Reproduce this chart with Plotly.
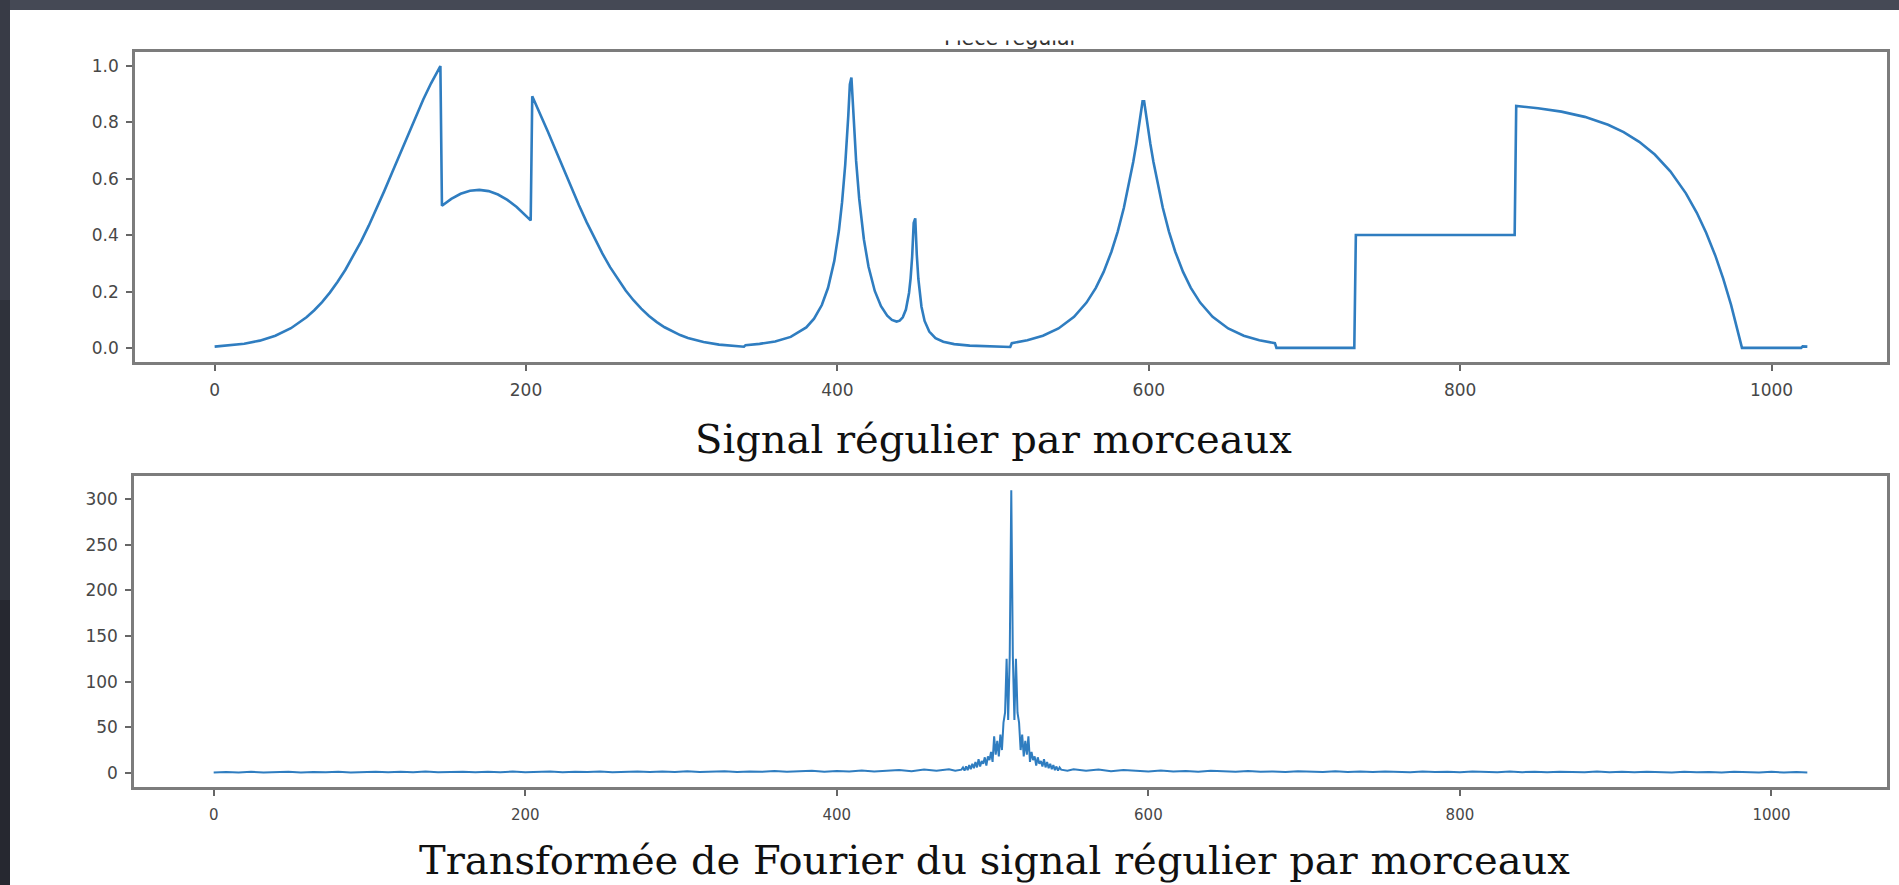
import plotly.graph_objects as go

# ---------------------------------------------------------------
# Piece-regular test signal (1024 samples, normalised to [0, 1])
# ---------------------------------------------------------------
signal_x = [
    0, 9, 19, 29, 39, 49, 59, 64, 69, 74, 79, 84, 89, 94, 99, 104, 109, 114,
    119, 124, 129, 134, 139, 142, 145,
    146, 152, 158, 164, 170, 176, 182, 188, 194, 199, 203,
    204, 209, 214, 219, 224, 229, 234, 239, 244, 249, 254, 259, 264, 269, 274,
    279, 284, 289, 294, 299, 304, 314, 324, 334, 340,
    341, 350, 360, 370, 380, 385, 390, 394, 398, 401, 403, 405, 407, 408, 409,
    410, 412, 414, 417, 420, 424, 428, 432, 435, 438, 440, 442, 444, 446, 447,
    448, 449, 450, 451, 452, 454, 456, 459, 463, 468, 475, 485, 495, 505, 511,
    512, 522, 532, 542, 552, 560, 566, 571, 576, 580, 584, 587, 590, 592, 594, 596,
    597, 599, 601, 603, 606, 609, 613, 617, 622, 627, 633, 641, 651, 661, 671, 681,
    682, 732, 733, 835,
    836, 850, 865, 880, 895, 905, 915, 925, 935, 945, 952, 958, 964, 969, 974, 978, 981,
    982, 1019, 1020, 1021, 1022, 1023,
]
signal_y = [
    0.0046, 0.0082, 0.0148, 0.0258, 0.0433, 0.0699, 0.1087, 0.1337, 0.1628, 0.1963,
    0.2345, 0.2774, 0.3251, 0.3774, 0.4338, 0.4940, 0.5572, 0.6226,
    0.6890, 0.7551, 0.8198, 0.8815, 0.9389, 0.9707, 1.0000,
    0.5046, 0.5289, 0.5468, 0.5576, 0.5608, 0.5563, 0.5443, 0.5253, 0.5000, 0.4749, 0.4526,
    0.8933, 0.8324, 0.7682, 0.7022, 0.6358, 0.5702, 0.5065, 0.4456, 0.3883, 0.3352,
    0.2866, 0.2427, 0.2036, 0.1691, 0.1392,
    0.1134, 0.0916, 0.0732, 0.0580, 0.0455, 0.0354, 0.0207, 0.0117, 0.0064, 0.0043,
    0.0098, 0.0143, 0.0229, 0.0390, 0.0727, 0.1035, 0.1522, 0.2134, 0.3087, 0.4173,
    0.5171, 0.6485, 0.8245, 0.9350, 0.9595,
    0.8456, 0.6645, 0.5295, 0.3855, 0.2879, 0.2021, 0.1479, 0.1141, 0.0991, 0.0934,
    0.0965, 0.1085, 0.1361, 0.1948, 0.2461,
    0.3234, 0.4430, 0.4598, 0.3296, 0.2445, 0.1463, 0.0958, 0.0578, 0.0348, 0.0218,
    0.0135, 0.0081, 0.0054, 0.0037, 0.0031,
    0.0168, 0.0269, 0.0430, 0.0689, 0.1103, 0.1608, 0.2132, 0.2697, 0.3413, 0.4121,
    0.4974, 0.5728, 0.6596, 0.7247, 0.7963, 0.8748,
    0.8748, 0.7963, 0.7247, 0.6596, 0.5728, 0.4974, 0.4121, 0.3413, 0.2697, 0.2132,
    0.1608, 0.1103, 0.0689, 0.0430, 0.0269, 0.0168,
    0.0, 0.0, 0.4006, 0.4006,
    0.8584, 0.8507, 0.8384, 0.8198, 0.7919, 0.7658, 0.7314, 0.6862, 0.6268, 0.5485,
    0.4796, 0.4089, 0.3257, 0.2452, 0.1527, 0.0690, 0.0,
    0.0, 0.0, 0.0056, 0.0053, 0.0049, 0.0046,
]

# ---------------------------------------------------------------
# Magnitude of the centred Fourier transform of the signal
# ---------------------------------------------------------------
fft_left_x = list(range(0, 473, 8)) + [476]
fft_left_y = [
    0.3, 0.9, 0.4, 1.1, 0.5, 0.8, 1.2, 0.4, 1.0, 0.6,
    1.3, 0.5, 0.9, 1.2, 0.6, 1.1, 0.7, 1.4, 0.6, 1.0,
    1.3, 0.7, 1.2, 0.8, 1.5, 0.7, 1.1, 1.4, 0.8, 1.3,
    0.9, 1.6, 0.8, 1.2, 1.5, 0.9, 1.4, 1.0, 1.7, 0.9,
    1.4, 1.8, 1.0, 1.6, 1.1, 2.0, 1.2, 1.8, 2.3, 1.3,
    2.1, 1.5, 2.6, 1.6, 2.4, 3.2, 1.9, 3.6, 2.2, 4.0,
    2.4,
]
fft_center_x = list(range(480, 545))
fft_center_y = [
    3.5, 6, 2.5, 7, 3, 8.5, 4, 10, 5, 12, 6, 15, 7, 13, 10, 17,
    8, 18, 14, 23, 12, 40, 20, 35, 18, 42, 25, 55, 66, 125, 58, 128,
    310,
    128, 58, 125, 66, 55, 25, 42, 18, 35, 20, 40, 12, 23, 14, 18, 8,
    17, 10, 13, 7, 15, 6, 12, 5, 10, 4, 8.5, 3, 7, 2.5, 6, 3.5,
]
fft_right_x = [548] + list(range(552, 1017, 8)) + [1023]
fft_right_y = [
    2.4,
    4.0, 2.2, 3.6, 1.9, 3.2, 2.4, 1.6, 2.6, 1.5, 2.1,
    1.3, 2.3, 1.8, 1.2, 2.0, 1.1, 1.6, 1.0, 1.8, 1.4,
    0.9, 1.7, 1.0, 1.4, 0.9, 1.5, 1.2, 0.8, 1.6, 0.9,
    1.3, 0.8, 1.4, 1.1, 0.7, 1.5, 0.8, 1.2, 0.7, 1.3,
    1.0, 0.6, 1.4, 0.7, 1.1, 0.6, 1.2, 0.9, 0.5, 1.3,
    0.6, 1.0, 0.4, 1.2, 0.8, 0.5, 1.1, 0.4, 0.9,
    0.5,
]
fft_x = fft_left_x + fft_center_x + fft_right_x
fft_y = fft_left_y + fft_center_y + fft_right_y

top_yticks = [0.0, 0.2, 0.4, 0.6, 0.8, 1.0]
bottom_yticks = [0, 50, 100, 150, 200, 250, 300]
x_ticks = [0, 200, 400, 600, 800, 1000]

TITLE = "Piece regular"
CAPTION_TOP = "Signal régulier par morceaux"
CAPTION_BOTTOM = "Transformée de Fourier du signal régulier par morceaux"

# ---------------------------------------------------------------
W, H = 1899, 885
LINE = "#2f7dc0"
SPINE = "#7c7c7c"
TICKTXT = "#474747"


def px_x(p):
    return p / W


def px_y(p):
    return 1 - p / H


fig = go.Figure()
fig.add_trace(go.Scatter(x=signal_x, y=signal_y, mode="lines",
                         line=dict(color=LINE, width=2.6),
                         xaxis="x", yaxis="y", showlegend=False))
fig.add_trace(go.Scatter(x=fft_x, y=fft_y, mode="lines",
                         line=dict(color=LINE, width=2.0),
                         xaxis="x2", yaxis="y2", showlegend=False))

common_axis = dict(showline=True, mirror=True, linecolor=SPINE, linewidth=2.5,
                   showgrid=False, zeroline=False, ticks="outside",
                   ticklen=6, tickwidth=1.5, tickcolor="#666666")

fig.update_layout(
    width=W, height=H,
    margin=dict(l=0, r=0, t=0, b=0),
    paper_bgcolor="white", plot_bgcolor="white",
    font=dict(family="DejaVu Sans", color=TICKTXT),
    xaxis=dict(domain=[px_x(135), px_x(1887)], anchor="y",
               range=[-51.15, 1074.15], tickvals=x_ticks,
               tickfont=dict(size=17, color=TICKTXT), ticklabelstandoff=5,
               **common_axis),
    yaxis=dict(domain=[px_y(362), px_y(52)], anchor="x",
               range=[-0.05, 1.05], tickvals=top_yticks, tickformat=".1f",
               tickfont=dict(size=17, color=TICKTXT), ticklabelstandoff=4,
               **common_axis),
    xaxis2=dict(domain=[px_x(134), px_x(1887)], anchor="y2",
                range=[-51.15, 1074.15], tickvals=x_ticks,
                tickfont=dict(size=15, color=TICKTXT), ticklabelstandoff=6,
                **common_axis),
    yaxis2=dict(domain=[px_y(787), px_y(476)], anchor="x2",
                range=[-15.5, 325.5], tickvals=bottom_yticks,
                tickfont=dict(size=17, color=TICKTXT), ticklabelstandoff=4,
                **common_axis),
)

# slide background around the white panel
fig.add_shape(type="rect", xref="paper", yref="paper", x0=0, x1=1,
              y0=px_y(10), y1=1, fillcolor="#454955", line_width=0, layer="above")
for (top, bot, col) in [(0, 300, "#383b46"), (300, 600, "#2f323b"), (600, 885, "#262830")]:
    fig.add_shape(type="rect", xref="paper", yref="paper", x0=0, x1=px_x(10),
                  y0=px_y(bot), y1=px_y(top), fillcolor=col, line_width=0, layer="above")

annotations = [
    # plot title, its upper part hidden by the panel edge
    dict(text=TITLE, x=px_x(1011), y=px_y(38), xref="paper", yref="paper",
         xanchor="center", yanchor="middle", showarrow=False,
         font=dict(family="DejaVu Sans", size=20.5, color="#333333")),
    dict(text=" ", x=px_x(1011), y=px_y(10), xref="paper", yref="paper",
         xanchor="center", yanchor="top", showarrow=False,
         width=260, height=29, bgcolor="white", borderpad=0),
    dict(text=CAPTION_TOP, x=px_x(993), y=px_y(439), xref="paper", yref="paper",
         xanchor="center", yanchor="middle", showarrow=False,
         font=dict(family="DejaVu Serif", size=40, color="#111111")),
    dict(text=CAPTION_BOTTOM, x=px_x(994), y=px_y(860), xref="paper", yref="paper",
         xanchor="center", yanchor="middle", showarrow=False,
         font=dict(family="DejaVu Serif", size=40, color="#111111")),
]
fig.update_layout(annotations=annotations)

fig.write_html("out.html")
